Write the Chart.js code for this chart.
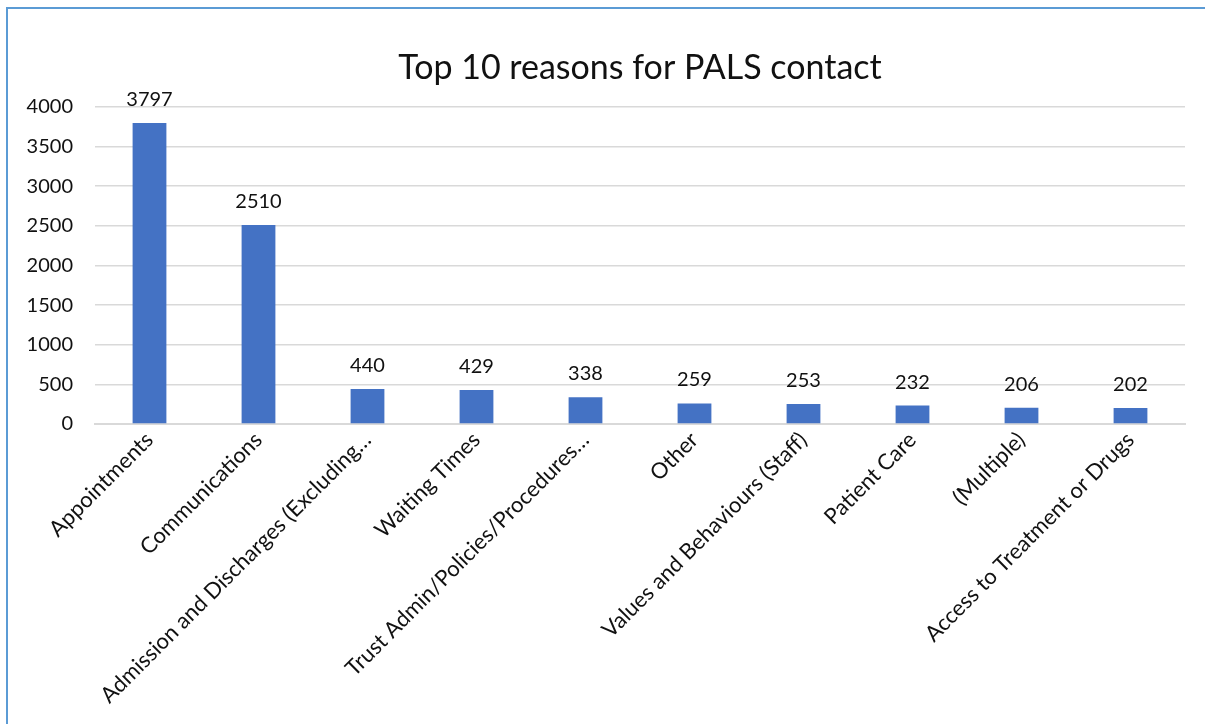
<!DOCTYPE html>
<html>
<head>
<meta charset="utf-8">
<script src="https://cdn.jsdelivr.net/npm/chart.js@4"></script>
<style>
  html, body { margin: 0; padding: 0; background: #fff; }
  #wrap { position: relative; width: 1205px; height: 724px; overflow: hidden; }
  #frame { position: absolute; left: 6px; top: 7px; right: -4px; bottom: -4px;
           border-left: 2px solid #5b9bd5; border-top: 2px solid #5b9bd5; }
  canvas { position: absolute; left: 0; top: 0; }
</style>
</head>
<body>
<div id="wrap">
  <div id="frame"></div>
  <canvas id="c" width="1205" height="724"></canvas>
</div>
<script>
const categories = [
  "Appointments",
  "Communications",
  "Admission and Discharges (Excluding…",
  "Waiting Times",
  "Trust Admin/Policies/Procedures…",
  "Other",
  "Values and Behaviours (Staff)",
  "Patient Care",
  "(Multiple)",
  "Access to Treatment or Drugs"
];
const contacts = [3797, 2510, 440, 429, 338, 259, 253, 232, 206, 202];
const yTicks = [0, 500, 1000, 1500, 2000, 2500, 3000, 3500, 4000];
const chartTitle = "Top 10 reasons for PALS contact";

const FONT = "Lato, 'Open Sans', sans-serif";

const valueLabels = {
  id: 'valueLabels',
  afterDatasetsDraw(chart) {
    const ctx = chart.ctx;
    const meta = chart.getDatasetMeta(0);
    ctx.save();
    ctx.font = "20px " + FONT;
    ctx.fillStyle = "#111";
    ctx.textAlign = "center";
    ctx.textBaseline = "alphabetic";
    meta.data.forEach((bar, i) => {
      ctx.fillText(String(contacts[i]), bar.x, bar.y - 17);
    });
    ctx.restore();
  }
};

new Chart(document.getElementById('c'), {
  type: 'bar',
  data: {
    labels: categories,
    datasets: [{
      data: contacts,
      backgroundColor: '#4472c4',
      borderWidth: 0,
      barPercentage: 0.31,
      categoryPercentage: 1.0
    }]
  },
  options: {
    responsive: false,
    animation: false,
    layout: { padding: { left: 0, right: 20, top: 0, bottom: 0 } },
    plugins: {
      legend: { display: false },
      tooltip: { enabled: false },
      title: {
        display: true,
        fullSize: false,
        text: chartTitle,
        color: '#111',
        font: { family: FONT, size: 34, weight: 'normal' },
        padding: { top: 48, bottom: 18 }
      }
    },
    scales: {
      x: {
        grid: { display: false, drawTicks: false },
        border: { display: true, color: '#d9d9d9', width: 2 },
        ticks: {
          color: '#111',
          font: { family: FONT, size: 22 },
          maxRotation: 45, minRotation: 45,
          autoSkip: false,
          padding: 3
        },
        afterFit(scale) { scale.height = 724 - 424; }
      },
      y: {
        min: 0, max: 4000,
        afterBuildTicks(scale) { scale.ticks = yTicks.map(v => ({ value: v })); },
        grid: { color: '#d9d9d9', lineWidth: 1.5, drawTicks: false },
        border: { display: false },
        ticks: {
          color: '#111',
          font: { family: FONT, size: 20 },
          padding: 22,
          callback: (v) => String(v)
        },
        afterFit(scale) { scale.width = 95; }
      }
    }
  },
  plugins: [valueLabels]
});
</script>
</body>
</html>
